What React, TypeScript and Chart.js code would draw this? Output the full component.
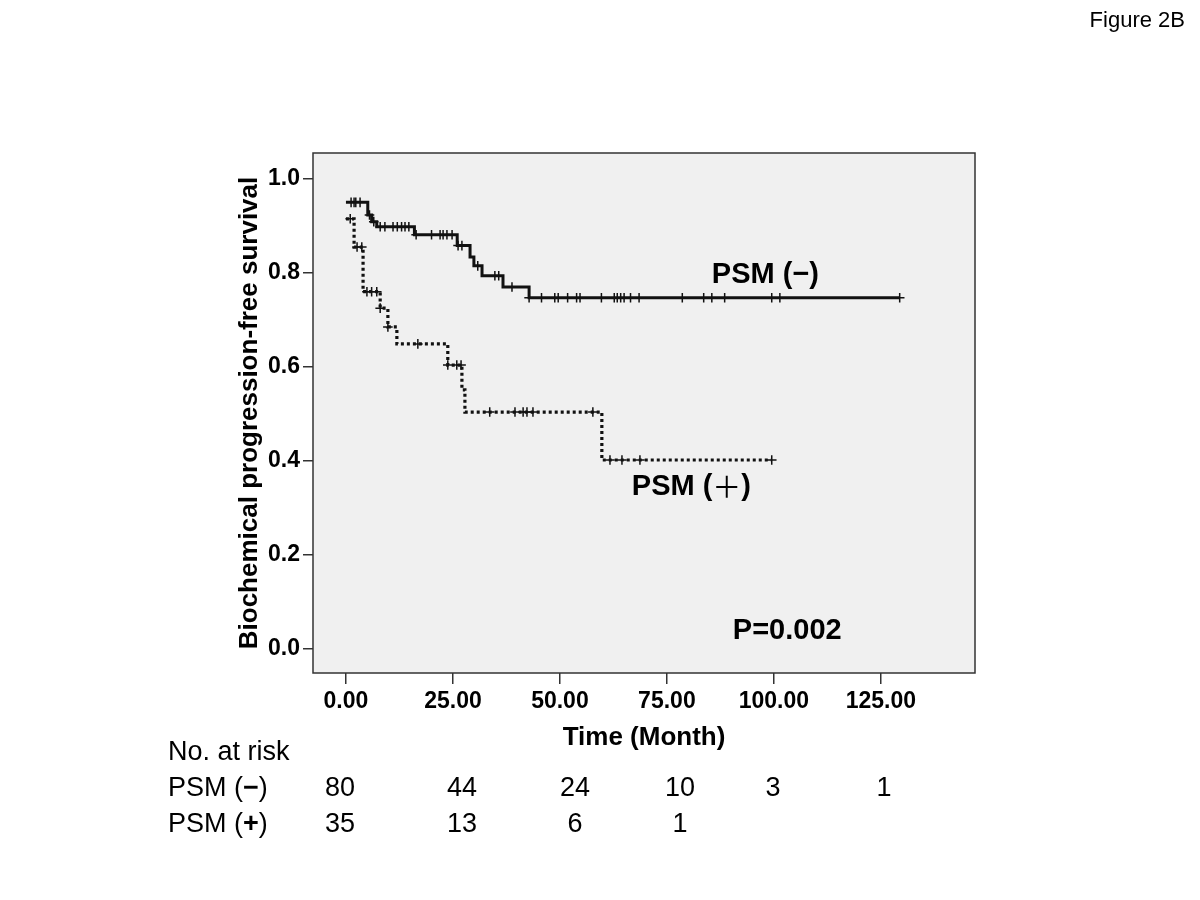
import React, { useEffect, useRef } from "react";
import { Chart, registerables } from "chart.js";

Chart.register(...registerables);

// ---- Data ----
// PSM (−): event times (months) and survival after each event
const negTimes = [0, 5.1, 6, 7.2, 16, 26, 29, 29.9, 31.8, 36.7, 42.8, 129.4];
const negSurv = [0.95, 0.923, 0.909, 0.898, 0.881, 0.858, 0.834, 0.815, 0.794, 0.77, 0.747, 0.747];
const negCensor = [
  1.2, 1.9, 2.3, 3.3, 5.5, 6.5, 8, 9.1, 11, 12, 13, 13.8, 14.7, 16.4, 20, 22, 22.7, 23.6, 24.8,
  26.2, 27.1, 30.8, 34.8, 35.7, 38.8, 42.8, 45.7, 48.8, 49.6, 51.8, 53.9, 54.7, 59.7, 62.7, 63.4,
  64.2, 65, 66.5, 68.5, 78.6, 83.6, 85.5, 88.5, 99.5, 101.4, 129.4,
];
// PSM (+)
const posTimes = [0, 1.9, 4, 8, 9.8, 11.9, 23.8, 27.1, 27.8, 59.8, 99.5];
const posSurv = [0.915, 0.855, 0.76, 0.725, 0.685, 0.649, 0.604, 0.551, 0.504, 0.402, 0.402];
const posCensor = [
  1, 2.6, 3.7, 4.9, 6, 7.2, 8, 9.8, 16.8, 23.8, 25.9, 26.9, 33.6, 39.5, 41.4, 42.3, 43.7, 57.7,
  61.7, 64.5, 68.7, 99.5,
];

const xTickValues = [0, 25, 50, 75, 100, 125];
const yTickValues = [0, 0.2, 0.4, 0.6, 0.8, 1.0];

const riskHeader = "No. at risk";
const riskNeg = [80, 44, 24, 10, 3, 1];
const riskPos = [35, 13, 6, 1];
const pText = "P=0.002";
const figLabel = "Figure 2B";

// ---- Layout / style constants ----
const FONT = "'Liberation Sans', Arial, 'Noto Sans CJK JP', sans-serif";
const riskColX = [340, 462, 575, 680, 773, 884];
const riskRowY = [789, 825];
const riskHeaderY = 753;
const riskLabelX = 168;

function survAt(times: number[], surv: number[], t: number) {
  let v = surv[0];
  for (let i = 0; i < times.length; i++) {
    if (times[i] <= t + 1e-9) v = surv[i];
  }
  return v;
}

type Seg = { text: string; font: string };
function drawSegs(ctx: CanvasRenderingContext2D, segs: Seg[], x: number, y: number) {
  let cx = x;
  ctx.textBaseline = "middle";
  ctx.textAlign = "left";
  for (const s of segs) {
    ctx.font = s.font;
    ctx.fillText(s.text, cx, y);
    cx += ctx.measureText(s.text).width;
  }
}

const bgPlugin = {
  id: "kmBackground",
  beforeDraw(chart: any) {
    const { ctx, chartArea: a } = chart;
    ctx.save();
    ctx.fillStyle = "#ffffff";
    ctx.fillRect(0, 0, chart.width, chart.height);
    ctx.fillStyle = "#f0f0f0";
    ctx.fillRect(a.left, a.top, a.right - a.left, a.bottom - a.top);
    ctx.restore();
  },
  afterDraw(chart: any) {
    const { ctx, chartArea: a, scales } = chart;
    ctx.save();
    ctx.strokeStyle = "#333";
    ctx.lineWidth = 1.5;
    ctx.strokeRect(a.left, a.top, a.right - a.left, a.bottom - a.top);

    ctx.fillStyle = "#000";
    const xs = scales.x;
    const ys = scales.y;
    const bold29 = `bold 29px ${FONT}`;
    // curve labels
    drawSegs(ctx, [{ text: "PSM (−)", font: bold29 }], xs.getPixelForValue(85.5), ys.getPixelForValue(0.796));
    drawSegs(
      ctx,
      [
        { text: "PSM (", font: bold29 },
        { text: "＋", font: `29px 'Noto Sans CJK JP', sans-serif` },
        { text: ")", font: bold29 },
      ],
      xs.getPixelForValue(66.8),
      ys.getPixelForValue(0.345)
    );
    drawSegs(ctx, [{ text: pText, font: bold29 }], xs.getPixelForValue(90.4), ys.getPixelForValue(0.038));

    // figure label
    ctx.font = `22px ${FONT}`;
    ctx.textAlign = "right";
    ctx.textBaseline = "middle";
    ctx.fillText(figLabel, 1185, 21);

    // at-risk table
    const reg = `27px ${FONT}`;
    const boldR = `bold 27px ${FONT}`;
    drawSegs(ctx, [{ text: riskHeader, font: reg }], riskLabelX, riskHeaderY);
    drawSegs(
      ctx,
      [
        { text: "PSM (", font: reg },
        { text: "−", font: boldR },
        { text: ")", font: reg },
      ],
      riskLabelX,
      riskRowY[0]
    );
    drawSegs(
      ctx,
      [
        { text: "PSM (", font: reg },
        { text: "+", font: boldR },
        { text: ")", font: reg },
      ],
      riskLabelX,
      riskRowY[1]
    );
    ctx.font = reg;
    ctx.textAlign = "center";
    ctx.textBaseline = "middle";
    riskNeg.forEach((n, i) => ctx.fillText(String(n), riskColX[i], riskRowY[0]));
    riskPos.forEach((n, i) => ctx.fillText(String(n), riskColX[i], riskRowY[1]));
    ctx.restore();
  },
};

export default function App() {
  const ref = useRef<HTMLCanvasElement | null>(null);

  useEffect(() => {
    if (!ref.current) return;
    const negLine = negTimes.map((t, i) => ({ x: t, y: negSurv[i] }));
    const posLine = posTimes.map((t, i) => ({ x: t, y: posSurv[i] }));
    const negMarks = negCensor.map((t) => ({ x: t, y: survAt(negTimes, negSurv, t) }));
    const posMarks = posCensor.map((t) => ({ x: t, y: survAt(posTimes, posSurv, t) }));

    const tickFont = { family: FONT, size: 23, weight: "bold" as const };
    const titleFont = { family: FONT, size: 26, weight: "bold" as const };

    const chart = new Chart(ref.current, {
      type: "scatter",
      data: {
        datasets: [
          {
            label: "PSM (−)",
            data: negLine,
            showLine: true,
            stepped: "before",
            borderColor: "#111",
            borderWidth: 3,
            pointRadius: 0,
            fill: false,
          } as any,
          {
            label: "PSM (+)",
            data: posLine,
            showLine: true,
            stepped: "before",
            borderColor: "#111",
            borderWidth: 3.2,
            borderDash: [3, 3],
            pointRadius: 0,
            fill: false,
          } as any,
          {
            label: "censored (−)",
            data: negMarks,
            showLine: false,
            pointStyle: "cross",
            pointRadius: 4.8,
            borderColor: "#111",
            borderWidth: 1.5,
          } as any,
          {
            label: "censored (+)",
            data: posMarks,
            showLine: false,
            pointStyle: "cross",
            pointRadius: 4.8,
            borderColor: "#111",
            borderWidth: 1.5,
          } as any,
        ],
      },
      options: {
        responsive: false,
        animation: false,
        events: [],
        layout: { padding: { left: 234.4, right: 225, top: 153, bottom: 146.4 } },
        plugins: { legend: { display: false }, tooltip: { enabled: false } },
        scales: {
          x: {
            type: "linear",
            min: -7.7,
            max: 147,
            afterBuildTicks: (s: any) => {
              s.ticks = xTickValues.map((v) => ({ value: v }));
            },
            afterFit: (s: any) => {
              s.height = 80.6;
            },
            grid: { drawOnChartArea: false, drawTicks: true, tickLength: 11, color: "#333", lineWidth: 1.5 },
            border: { display: false },
            ticks: {
              font: tickFont,
              color: "#000",
              padding: 4,
              maxRotation: 0,
              autoSkip: false,
              callback: (v: any) => Number(v).toFixed(2),
            },
            title: { display: true, text: "Time (Month)", font: titleFont, color: "#000", padding: 0 },
          },
          y: {
            type: "linear",
            min: -0.051,
            max: 1.055,
            afterBuildTicks: (s: any) => {
              s.ticks = yTickValues.map((v) => ({ value: v }));
            },
            afterFit: (s: any) => {
              s.width = 78.6;
            },
            grid: { drawOnChartArea: false, drawTicks: true, tickLength: 10, color: "#333", lineWidth: 1.5 },
            border: { display: false },
            ticks: {
              font: tickFont,
              color: "#000",
              padding: 3,
              autoSkip: false,
              callback: (v: any) => Number(v).toFixed(1),
            },
            title: {
              display: true,
              text: "Biochemical progression-free survival",
              font: titleFont,
              color: "#000",
              padding: 0,
            },
          },
        },
      },
      plugins: [bgPlugin],
    });
    return () => chart.destroy();
  }, []);

  return (
    <div style={{ position: "absolute", left: 0, top: 0, width: 1200, height: 900, background: "#fff" }}>
      <canvas ref={ref} width={1200} height={900} style={{ width: 1200, height: 900, display: "block" }} />
    </div>
  );
}
